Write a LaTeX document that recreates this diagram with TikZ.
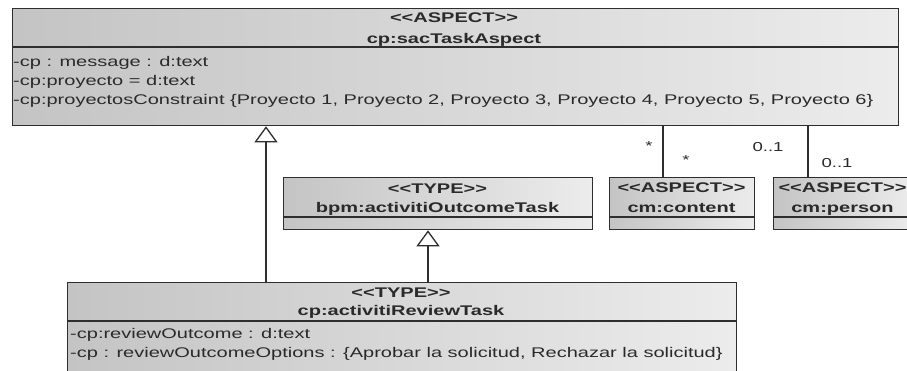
\documentclass[tikz,border=0pt]{standalone}
\usepackage{fontspec}
\setmainfont{Liberation Sans}[FakeStretch=1.43]
\newfontfamily\headfont{Liberation Sans}[FakeStretch=1.43]
\usetikzlibrary{arrows.meta}

\definecolor{edge}{HTML}{2E2E2E}
\definecolor{ink}{HTML}{2A2A2A}
\definecolor{shadeL}{HTML}{C4C4C4}
\definecolor{shadeR}{HTML}{ECECEC}

\tikzset{
  umlbox/.style={rectangle, draw=edge, line width=1.3pt, inner sep=0pt,
    anchor=north west, left color=shadeL, right color=shadeR},
  divider/.style={draw=edge, line width=1.1pt},
  stereo/.style={inner sep=0pt, anchor=base, text=ink,
    font=\headfont\bfseries\fontsize{14}{16}\selectfont},
  attr/.style={inner sep=0pt, anchor=base west, text=ink,
    font=\fontsize{14}{16}\selectfont},
  mult/.style={inner sep=0pt, anchor=base, text=ink,
    font=\fontsize{13}{15}\selectfont},
  gen/.style={draw=edge, line width=1.3pt,
    -{Triangle[width=23pt,length=16pt,fill=white]}},
  assoc/.style={draw=edge, line width=1.3pt}
}

\begin{document}
\begin{tikzpicture}[x=1pt,y=-1pt]
\useasboundingbox (0,0) rectangle (907,370);
\clip (0,0) rectangle (907,370);
\fill[white] (0,0) rectangle (907,370);

% class boxes
\node[umlbox, minimum width=886pt, minimum height=117pt] (aspect) at (12,8) {};
\node[umlbox, minimum width=309pt, minimum height=52pt] (outcome) at (283,177) {};
\node[umlbox, minimum width=145pt, minimum height=52pt] (content) at (609,177) {};
\node[umlbox, minimum width=140pt, minimum height=52pt] (person) at (773,177) {};
\node[umlbox, minimum width=669pt, minimum height=110pt] (review) at (67,282) {};

% compartment separators
\draw[divider] ([yshift=-39pt]aspect.north west) -- ([yshift=-39pt]aspect.north east);
\draw[divider] ([yshift=-40pt]outcome.north west) -- ([yshift=-40pt]outcome.north east);
\draw[divider] ([yshift=-40pt]content.north west) -- ([yshift=-40pt]content.north east);
\draw[divider] ([yshift=-40pt]person.north west) -- ([yshift=-40pt]person.north east);
\draw[divider] ([yshift=-39pt]review.north west) -- ([yshift=-39pt]review.north east);

% cp:sacTaskAspect
\node[stereo] (aspectS) at (454,22) {<<ASPECT>>};
\node[stereo] (aspectN) at (454,43) {cp:sacTaskAspect};
\node[attr] (aspectA1) at (13,66) {-cp : message : d:text};
\node[attr] (aspectA2) at (13,85) {-cp:proyecto = d:text};
\node[attr] (aspectA3) at (13,104) {-cp:proyectosConstraint \{Proyecto 1, Proyecto 2, Proyecto 3, Proyecto 4, Proyecto 5, Proyecto 6\}};

% bpm:activitiOutcomeTask
\node[stereo] (outcomeS) at (437.5,193) {<<TYPE>>};
\node[stereo] (outcomeN) at (437.5,212) {bpm:activitiOutcomeTask};

% cm:content
\node[stereo] (contentS) at (681.5,192) {<<ASPECT>>};
\node[stereo] (contentN) at (681.5,212) {cm:content};

% cm:person
\node[stereo] (personS) at (842.5,192) {<<ASPECT>>};
\node[stereo] (personN) at (842.5,212) {cm:person};

% cp:activitiReviewTask
\node[stereo] (reviewS) at (401,297) {<<TYPE>>};
\node[stereo] (reviewN) at (401,315) {cp:activitiReviewTask};
\node[attr] (reviewA1) at (70,338) {-cp:reviewOutcome : d:text};
\node[attr] (reviewA2) at (70,357) {-cp : reviewOutcomeOptions : \{Aprobar la solicitud, Rechazar la solicitud\}};

% connector columns
\coordinate (g1) at (266,0);
\coordinate (g2) at (428,0);
\coordinate (a1) at (663,0);
\coordinate (a2) at (808,0);

% generalizations
\draw[gen] (review.north -| g1) -- (aspect.south -| g1);
\draw[gen] (review.north -| g2) -- (outcome.south -| g2);

% associations
\draw[assoc] (aspect.south -| a1) -- (content.north -| a1);
\draw[assoc] (aspect.south -| a2) -- (person.north -| a2);

% multiplicities
\node[mult] (m1) at (649,150) {*};
\node[mult] (m2) at (686,164) {*};
\node[mult] (m3) at (768,151) {0..1};
\node[mult] (m4) at (837,167) {0..1};
\end{tikzpicture}
\end{document}
